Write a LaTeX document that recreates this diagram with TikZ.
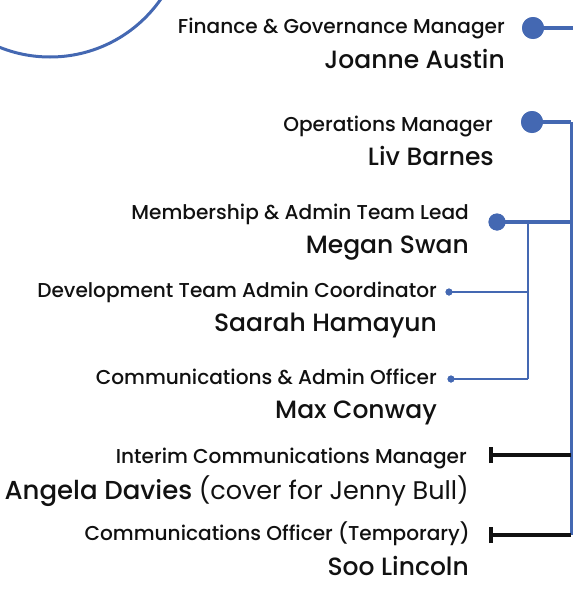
\documentclass[tikz,border=0pt]{standalone}
\usepackage{fontspec}
\setmainfont{Poppins}
\newfontfamily\medfont{Poppins Medium}
\definecolor{orgblue}{RGB}{68,104,178}
\definecolor{ink}{RGB}{17,17,17}
\begin{document}
\begin{tikzpicture}[x=1pt,y=-1pt,
  role/.style={anchor=base east,inner sep=0pt,text=ink,font=\medfont\fontsize{20.1}{22}\selectfont},
  person/.style={anchor=base east,inner sep=0pt,text=ink,font=\medfont\fontsize{25}{28}\selectfont},
  bigdot/.style={circle,fill=orgblue,inner sep=0pt,minimum size=22pt},
  middot/.style={circle,fill=orgblue,inner sep=0pt,minimum size=17pt},
  smalldot/.style={circle,fill=orgblue,inner sep=0pt,minimum size=7pt},
  thickblue/.style={draw=orgblue,line width=4pt},
  thinblue/.style={draw=orgblue,line width=2pt},
  blackline/.style={draw=ink,line width=3.5pt},
  barend/.style={draw=ink,line width=3.5pt}
]
\useasboundingbox (0,0) rectangle (573,589);
% arc
\draw[orgblue,line width=3pt] (50,-78) circle[radius=135];
% texts
\node[role]   (t1) at (505,33)  {Finance \& Governance Manager};
\node[person] (n1) at (505,68)  {Joanne Austin};
\node[role]   (t2) at (493,131) {Operations Manager};
\node[person] (n2) at (494,165) {Liv Barnes};
\node[role]   (t3) at (469,219) {Membership \& Admin Team Lead};
\node[person] (n3) at (469,253) {Megan Swan};
\node[role]   (t4) at (437,297) {Development Team Admin Coordinator};
\node[person] (n4) at (437,331) {Saarah Hamayun};
\node[role]   (t5) at (437,384) {Communications \& Admin Officer};
\node[person] (n5) at (437,418) {Max Conway};
\node[role]   (t6) at (467,463) {Interim Communications Manager};
\node[person] (n6) at (469,499) {{\fontsize{26}{28}\selectfont Angela Davies} {\normalfont\fontsize{25.5}{28}\selectfont(cover for Jenny Bull)}};
\node[role]   (t7) at (470,540) {Communications Officer (Temporary)};
\node[person] (n7) at (469,575) {Soo Lincoln};
% dots
\node[bigdot] (d1) at (533,28) {};
\node[bigdot] (d2) at (532,122) {};
\node[middot] (d3) at (497,222) {};
\node[smalldot] (d4) at (449,292) {};
\node[smalldot] (d5) at (451,379) {};
% coordinates
\coordinate (e1) at (573,28);
\coordinate (c2) at (571,122);
\coordinate (c3) at (571,222);
\coordinate (b3) at (528,222);
\coordinate (b4) at (528,292);
\coordinate (b5) at (528,379);
\coordinate (c6) at (571,455);
\coordinate (c7) at (571,535);
\coordinate (p6) at (491,455);
\coordinate (p7) at (491,535);
% connectors
\draw[thickblue] (d1.center) -- (e1);
\draw[thickblue] (d2.center) -- (c2);
\draw[draw=orgblue,line width=3pt] (c2) -- (c7);
\draw[thickblue] (d3.center) -- (c3);
\draw[thinblue] (b3) -- (b5);
\draw[thinblue] (d4.center) -- (b4);
\draw[thinblue] (d5.center) -- (b5);
\draw[blackline] (p6) -- (c6);
\draw[blackline] (p7) -- (c7);
\draw[barend] ([yshift=-8pt]p6) -- ([yshift=8pt]p6);
\draw[barend] ([yshift=-8pt]p7) -- ([yshift=8pt]p7);
\node[bigdot] at (d1) {};
\node[bigdot] at (d2) {};
\node[middot] at (d3) {};
\node[smalldot] at (d4) {};
\node[smalldot] at (d5) {};
\end{tikzpicture}
\end{document}
